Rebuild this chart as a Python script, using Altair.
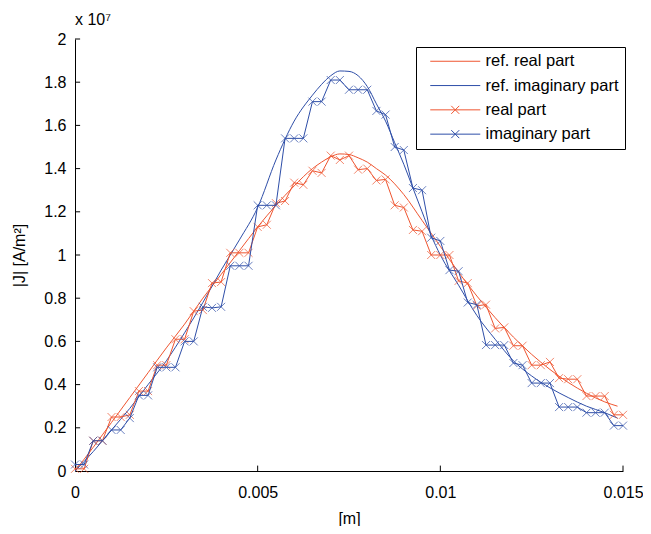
import altair as alt
import pandas as pd

RED = "#EF5530"
BLUE = "#2E4EA8"

# sampled solution (units of 1e7 A/m^2), one value every 0.00025 m from 0 to 0.015 m
x_step = 0.00025
real_part = [0.01, 0.01, 0.14, 0.14, 0.25, 0.25, 0.26, 0.37, 0.37, 0.49,
             0.49, 0.61, 0.61, 0.74, 0.745, 0.87, 0.875, 1.01, 1.01, 1.01,
             1.13, 1.14, 1.24, 1.25, 1.335, 1.325, 1.39, 1.38, 1.46, 1.44,
             1.46, 1.395, 1.40, 1.345, 1.35, 1.23, 1.22, 1.116, 1.11, 1.00,
             1.00, 1.00, 0.88, 0.87, 0.765, 0.77, 0.66, 0.665, 0.58, 0.58,
             0.49, 0.49, 0.505, 0.43, 0.425, 0.425, 0.347, 0.347, 0.347, 0.26,
             0.26]
imaginary_part = [0.03, 0.03, 0.14, 0.14, 0.19, 0.19, 0.245, 0.35, 0.35, 0.48,
                  0.48, 0.48, 0.60, 0.60, 0.76, 0.755, 0.76, 0.95, 0.95, 0.95,
                  1.23, 1.23, 1.23, 1.54, 1.54, 1.54, 1.71, 1.71, 1.81, 1.81,
                  1.765, 1.765, 1.765, 1.667, 1.65, 1.50, 1.486, 1.31, 1.30, 1.08,
                  1.065, 0.93, 0.925, 0.78, 0.77, 0.583, 0.583, 0.583, 0.50, 0.49,
                  0.407, 0.407, 0.407, 0.296, 0.296, 0.296, 0.27, 0.27, 0.27, 0.21,
                  0.21]

# reference curves
ref_real_x = [0, 0.0005, 0.001, 0.0015, 0.002, 0.0025, 0.003, 0.0035, 0.004, 0.0045,
              0.005, 0.0055, 0.006, 0.0065, 0.00675, 0.007, 0.00725, 0.0075, 0.00775, 0.008,
              0.00825, 0.0085, 0.009, 0.0095, 0.01, 0.0105, 0.011, 0.0115, 0.012, 0.0125,
              0.013, 0.0135, 0.014, 0.0145, 0.01485]
ref_real = [0.0, 0.11, 0.225, 0.34, 0.455, 0.57, 0.68, 0.80, 0.91, 1.02,
            1.13, 1.23, 1.32, 1.40, 1.43, 1.455, 1.468, 1.465, 1.45, 1.43,
            1.40, 1.37, 1.28, 1.16, 1.04, 0.92, 0.81, 0.71, 0.62, 0.54,
            0.47, 0.41, 0.36, 0.32, 0.30]
ref_imag_x = [0, 0.0005, 0.001, 0.0015, 0.002, 0.0025, 0.003, 0.0035, 0.004, 0.0045,
              0.005, 0.0055, 0.006, 0.0065, 0.00675, 0.007, 0.00725, 0.0075, 0.00775, 0.008,
              0.00825, 0.0085, 0.00875, 0.009, 0.00925, 0.0095, 0.00975, 0.01, 0.0105, 0.011,
              0.0115, 0.012, 0.0125, 0.013, 0.0135, 0.014, 0.0145, 0.01485]
ref_imag = [0.0, 0.09, 0.19, 0.29, 0.40, 0.51, 0.64, 0.78, 0.93, 1.07,
            1.22, 1.44, 1.62, 1.74, 1.79, 1.83, 1.852, 1.85, 1.83, 1.78,
            1.70, 1.62, 1.52, 1.42, 1.31, 1.20, 1.09, 1.00, 0.86, 0.72,
            0.61, 0.51, 0.44, 0.385, 0.34, 0.30, 0.27, 0.245]

series_names = ["ref. real part", "ref. imaginary part", "real part", "imaginary part"]
series_colors = [RED, BLUE, RED, BLUE]
LINE = "M0,0H10"
LINE_X = "M0,0H10M4.2,-0.8L5.8,0.8M4.2,0.8L5.8,-0.8"
series_shapes = [LINE, LINE, LINE_X, LINE_X]

x_ticks = [0, 0.005, 0.01, 0.015]
y_ticks = [0, 0.2, 0.4, 0.6, 0.8, 1.0, 1.2, 1.4, 1.6, 1.8, 2.0]

FONT = "Liberation Sans"
FS = 16

# ---- tables ----
sample_x = [round(i * x_step, 5) for i in range(len(real_part))]
real_df = pd.DataFrame({"x": sample_x, "v": real_part, "series": "real part"})
imag_df = pd.DataFrame({"x": sample_x, "v": imaginary_part, "series": "imaginary part"})
ref_real_df = pd.DataFrame({"x": ref_real_x, "v": ref_real, "series": "ref. real part"})
ref_imag_df = pd.DataFrame({"x": ref_imag_x, "v": ref_imag, "series": "ref. imaginary part"})
all_df = pd.concat([ref_real_df, ref_imag_df, real_df, imag_df], ignore_index=True)

xt_df = pd.DataFrame({"tx": x_ticks[1:], "y0": 0.0, "y1": 0.025})
yt_df = pd.DataFrame({"ty": y_ticks[1:], "x0": 0.0, "x1": 0.00014})

xscale = alt.Scale(domain=[0, 0.015], nice=False, zero=False)
yscale = alt.Scale(domain=[0, 2], nice=False, zero=False)
xaxis = alt.Axis(values=x_ticks, format=".3~f", title="[m]", ticks=False, grid=False,
                 labelPadding=13, titlePadding=10, labelFlush=False)
yaxis = alt.Axis(values=y_ticks, format=".1~f", title="|J| [A/m²]", ticks=False, grid=False,
                 labelPadding=9, titlePadding=16, labelFlush=False)

X = alt.X("x:Q", scale=xscale, axis=xaxis)
Y = alt.Y("v:Q", scale=yscale, axis=yaxis)

xmark = "M-1,-1L1,1M-1,1L1,-1"


def ref_layer(df, col):
    return alt.Chart(df).mark_line(interpolate="monotone", strokeWidth=1, color=col).encode(x=X, y=Y)


def sample_layers(df, col):
    line = alt.Chart(df).mark_line(strokeWidth=1, color=col).encode(x=X, y=Y)
    pts = alt.Chart(df).mark_point(shape=xmark, size=64, filled=False, strokeWidth=1,
                                   color=col).encode(x=X, y=Y)
    return [line, pts]


legend_common = dict(title=None, orient="none", legendX=341, legendY=8,
                     strokeColor="black", fillColor="white", padding=6,
                     labelFontSize=16.5, labelFont=FONT, labelColor="black",
                     symbolSize=100, symbolStrokeWidth=1, labelOffset=47, rowPadding=7.3)
legend_layer = alt.Chart(all_df).mark_point(opacity=0, filled=False).encode(
    x=X, y=Y,
    color=alt.Color("series:N", scale=alt.Scale(domain=series_names, range=series_colors),
                    legend=alt.Legend(**legend_common)),
    shape=alt.Shape("series:N", scale=alt.Scale(domain=series_names, range=series_shapes),
                    legend=alt.Legend(**legend_common)),
)

x_tick_marks = alt.Chart(xt_df).mark_rule(color="black", strokeWidth=1).encode(
    x=alt.X("tx:Q", scale=xscale, axis=xaxis),
    y=alt.Y("y0:Q", scale=yscale, axis=yaxis), y2="y1")
y_tick_marks = alt.Chart(yt_df).mark_rule(color="black", strokeWidth=1).encode(
    y=alt.Y("ty:Q", scale=yscale, axis=yaxis),
    x=alt.X("x0:Q", scale=xscale, axis=xaxis), x2="x1")

chart = alt.layer(
    ref_layer(ref_real_df, RED),
    ref_layer(ref_imag_df, BLUE),
    *sample_layers(real_df, RED),
    *sample_layers(imag_df, BLUE),
    x_tick_marks, y_tick_marks,
    legend_layer,
).properties(
    width=548, height=432,
    autosize=alt.AutoSizeParams(type="none"),
    padding={"left": 67, "top": 31, "right": 20, "bottom": 55},
    title=alt.TitleParams("x 10⁷", anchor="start", frame="group", fontSize=FS,
                          fontWeight="normal", font=FONT, color="black",
                          offset=3),
).configure_view(stroke=None).configure_axis(
    labelFont=FONT, titleFont=FONT,
    labelFontSize=FS, titleFontSize=FS, labelColor="black", titleColor="black",
    titleFontWeight="normal", domainColor="black", domainWidth=1,
)

chart.save("out.html", embed_options={"renderer": "svg", "actions": False})
